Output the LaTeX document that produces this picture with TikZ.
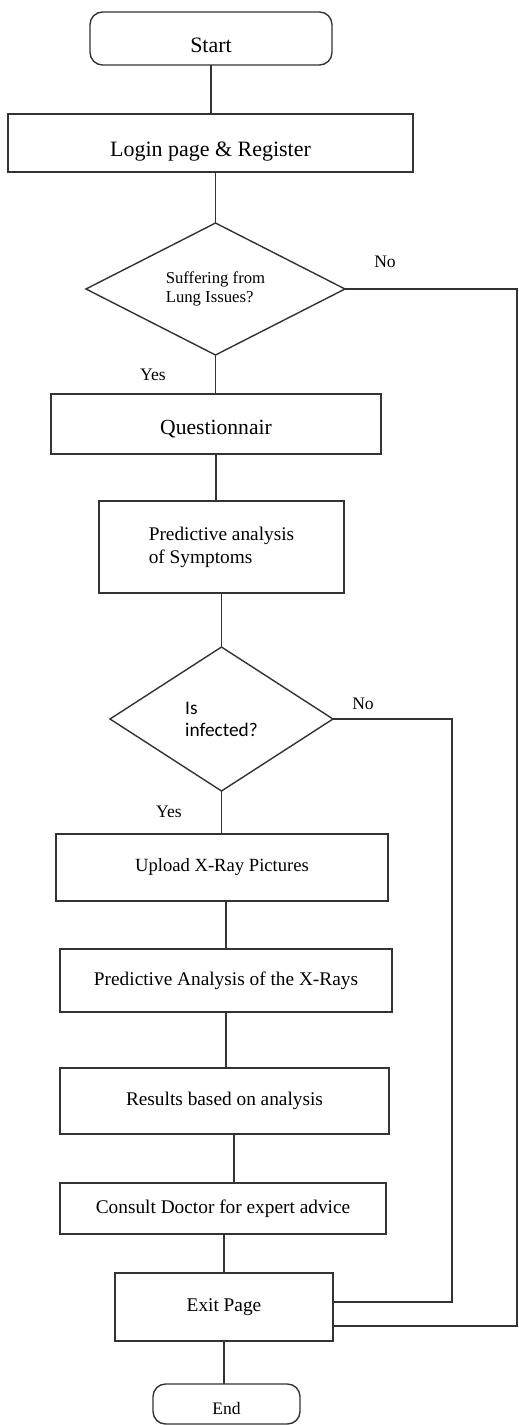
\documentclass[tikz,border=0pt]{standalone}
\usepackage{fontspec}
\setmainfont{Liberation Serif}
\newfontfamily\calibri{Carlito}
\usetikzlibrary{shapes.geometric,calc}
\tikzset{
  flow/.style={draw=black!80, line width=0.8pt},
  termbox/.style={flow, rectangle, rounded corners=0.25cm, outer sep=0pt, font=\fontsize{12.5}{14}\selectfont},
  procbox/.style={flow, rectangle, outer sep=0pt, inner sep=1pt, font=\fontsize{11}{13}\selectfont},
  decision/.style={flow, diamond, aspect=2, inner sep=0pt, outer sep=0pt},
  answer/.style={font=\fontsize{10}{12}\selectfont}
}
\begin{document}
\begin{tikzpicture}[x=0.02cm, y=-0.02cm]
	\useasboundingbox (0,0) rectangle (518,1425);
	\node[termbox, minimum width=4.84cm, minimum height=1.06cm, text height=0.58cm] (start) at (211,38.5) {Start};
	\node[procbox, minimum width=8.10cm, minimum height=1.16cm, text height=0.64cm, font=\fontsize{12.5}{14}\selectfont] (login) at (210.5,143) {Login page \& Register};
	\node[decision, minimum width=5.18cm, minimum height=2.64cm, align=left, font=\fontsize{9.5}{11}\selectfont] (dec1) at (215.5,289) {Suffering from\\Lung Issues?};
	\node[procbox, minimum width=6.60cm, minimum height=1.20cm, text height=0.5cm, font=\fontsize{12.3}{14}\selectfont] (quest) at (216,424) {Questionnair};
	\node[procbox, minimum width=4.90cm, minimum height=1.84cm, align=left] (pred) at (221.5,547) {Predictive analysis\\of Symptoms};
	\node[decision, minimum width=4.46cm, minimum height=2.88cm, align=left, font=\calibri\fontsize{11}{12.5}\selectfont] (dec2) at (221.5,719) {Is\\infected?};
	\node[procbox, minimum width=6.64cm, minimum height=1.34cm, font=\fontsize{10.6}{13}\selectfont] (upload) at (222,867.5) {Upload X-Ray Pictures};
	\node[procbox, minimum width=6.64cm, minimum height=1.26cm] (xray) at (226,980.5) {Predictive Analysis of the X-Rays};
	\node[procbox, minimum width=6.58cm, minimum height=1.32cm] (results) at (224.5,1101) {Results based on analysis};
	\node[procbox, minimum width=6.52cm, minimum height=1.02cm] (consult) at (223,1208.5) {Consult Doctor for expert advice};
	\node[procbox, minimum width=4.36cm, minimum height=1.36cm] (exit) at (224,1307) {Exit Page};
	\node[termbox, minimum width=2.94cm, minimum height=0.80cm, text height=0.42cm, font=\fontsize{10}{12}\selectfont] (end) at (226.5,1404) {End};

	\node[answer] (no1) at (385,262) {No};
	\node[answer] (yes1) at (153,375) {Yes};
	\node[answer] (no2) at (363,704) {No};
	\node[answer] (yes2) at (169,812) {Yes};

	\coordinate (rail1) at (517,0);
	\coordinate (rail2) at (452,0);
	\coordinate (exitlow) at ($(exit.east)+(0,19)$);
	\coordinate (exithigh) at ($(exit.east)+(0,-5)$);

	\draw[flow] (start.south) -- (start.south |- login.north);
	\draw[flow] (dec1.north |- login.south) -- (dec1.north);
	\draw[flow] (dec1.south) -- (dec1.south |- quest.north);
	\draw[flow] (quest.south) -- (quest.south |- pred.north);
	\draw[flow] (dec2.north |- pred.south) -- (dec2.north);
	\draw[flow] (dec2.south) -- (dec2.south |- upload.north);
	\draw[flow] (xray.north |- upload.south) -- (xray.north);
	\draw[flow] (xray.south) -- (xray.south |- results.north);
	\draw[flow] ($(results.south)+(9.5,0)$) -- ($(results.south |- consult.north)+(9.5,0)$);
	\draw[flow] (exit.north |- consult.south) -- (exit.north);
	\draw[flow] (exit.south) -- (exit.south |- end.north);
	\draw[flow] (dec1.east) -- (rail1 |- dec1.east) |- (exitlow);
	\draw[flow] (dec2.east) -- (rail2 |- dec2.east) |- (exithigh);
\end{tikzpicture}
\end{document}
